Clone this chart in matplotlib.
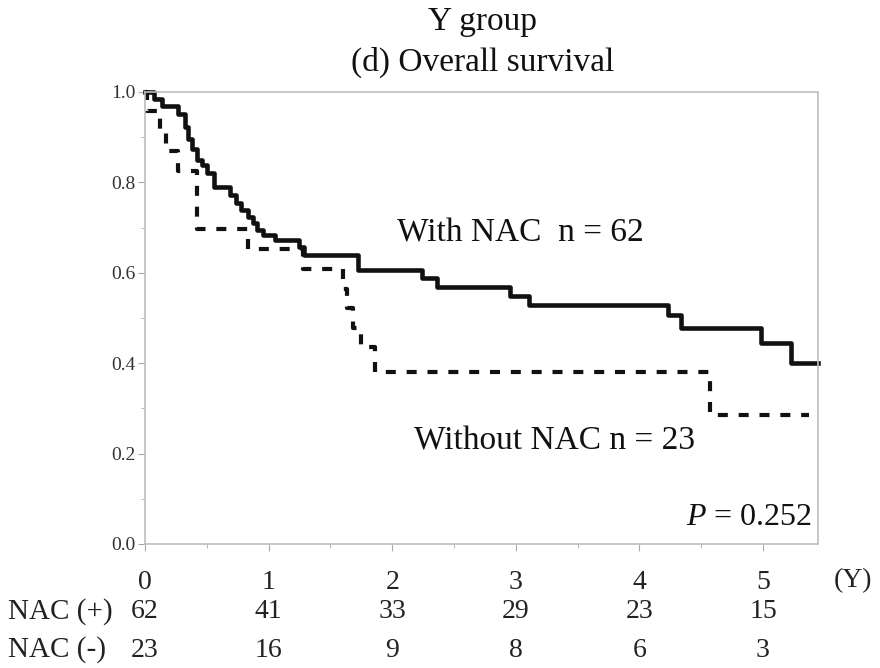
import matplotlib.pyplot as plt
from matplotlib.ticker import MultipleLocator

plt.rcParams['font.family'] = ['Liberation Serif', 'DejaVu Serif']
plt.rcParams['mathtext.fontset'] = 'custom'
plt.rcParams['mathtext.rm'] = 'Liberation Serif'
plt.rcParams['mathtext.it'] = 'Liberation Serif:italic'

# Kaplan-Meier steps (years, survival)
with_t = [0, 0.07, 0.135, 0.27, 0.325, 0.35, 0.38, 0.42, 0.46, 0.50, 0.555,
          0.69, 0.74, 0.78, 0.83, 0.87, 0.91, 0.955, 1.05, 1.25, 1.29, 1.72,
          2.24, 2.36, 2.95, 3.11, 4.23, 4.34, 4.98, 5.23, 5.445]
with_s = [1.0, 0.984, 0.968, 0.952, 0.923, 0.897, 0.875, 0.85, 0.838, 0.82, 0.79,
          0.772, 0.754, 0.739, 0.724, 0.71, 0.695, 0.684, 0.673, 0.658, 0.639, 0.606,
          0.588, 0.568, 0.549, 0.529, 0.507, 0.477, 0.444, 0.40, 0.40]

without_t = [0, 0.02, 0.12, 0.17, 0.27, 0.42, 0.835, 1.28, 1.60, 1.635, 1.685,
             1.75, 1.86, 4.57, 5.37]
without_s = [1.0, 0.957, 0.913, 0.870, 0.826, 0.696, 0.652, 0.609, 0.565, 0.522, 0.478,
             0.435, 0.381, 0.285, 0.285]

years = [0, 1, 2, 3, 4, 5]
risk_with = [62, 41, 33, 29, 23, 15]
risk_without = [23, 16, 9, 8, 6, 3]

fig = plt.figure(figsize=(8.8, 6.68), dpi=100)
ax = fig.add_axes([145/880, 1-544/668, 673/880, 452/668])

ax.step(with_t, with_s, where='post', color='#111111', lw=3.3, clip_on=False)
ax.step(without_t, without_s, where='post', color='#111111', lw=3.0,
        linestyle=(0, (2.4, 2.6)), clip_on=False)

ax.set_xlim(0, 5.445)
ax.set_ylim(0, 1.0)
ax.xaxis.set_major_locator(MultipleLocator(1))
ax.xaxis.set_minor_locator(MultipleLocator(0.5))
ax.yaxis.set_major_locator(MultipleLocator(0.2))
ax.yaxis.set_minor_locator(MultipleLocator(0.1))
ax.set_yticklabels(['%.1f' % v for v in ax.get_yticks()])

for s in ax.spines.values():
    s.set_color('#bdbdbd')
    s.set_linewidth(1.2)
ax.tick_params(which='both', color='#aaaaaa', direction='out')
ax.tick_params(axis='x', which='major', length=5, pad=14, labelsize=20, labelcolor='#222222')
ax.tick_params(axis='x', which='minor', length=3)
ax.tick_params(axis='y', which='major', length=5, pad=2, labelsize=14, labelcolor='#333333')
ax.tick_params(axis='y', which='minor', length=3)

ax.text(2.04, 0.688, 'With NAC  n = 62', fontsize=24, va='center', color='#111111')
ax.text(2.18, 0.228, 'Without NAC n = 23', fontsize=24, va='center', color='#111111')
ax.text(5.40, 0.058, '$P$ = 0.252', fontsize=23, va='center', ha='right', color='#111111')

fig.text(0.548, 1-22/668, 'Y group', fontsize=24, ha='center', va='center', color='#111111')
fig.text(0.548, 1-62/668, '(d) Overall survival', fontsize=24, ha='center', va='center', color='#111111')
fig.text(853/880, 1-581/668, '(Y)', fontsize=20, ha='center', va='center', color='#222222')

fig.text(8/880, 1-612/668, 'NAC (+)', fontsize=21, va='center', color='#222222')
fig.text(8/880, 1-650/668, 'NAC (-)', fontsize=21, va='center', color='#222222')
for t, a, b in zip(years, risk_with, risk_without):
    ax.text(t, -0.150, str(a), fontsize=20, ha='center', va='center', clip_on=False, color='#222222')
    ax.text(t, -0.235, str(b), fontsize=20, ha='center', va='center', clip_on=False, color='#222222')

fig.savefig('out.png', dpi=100)
